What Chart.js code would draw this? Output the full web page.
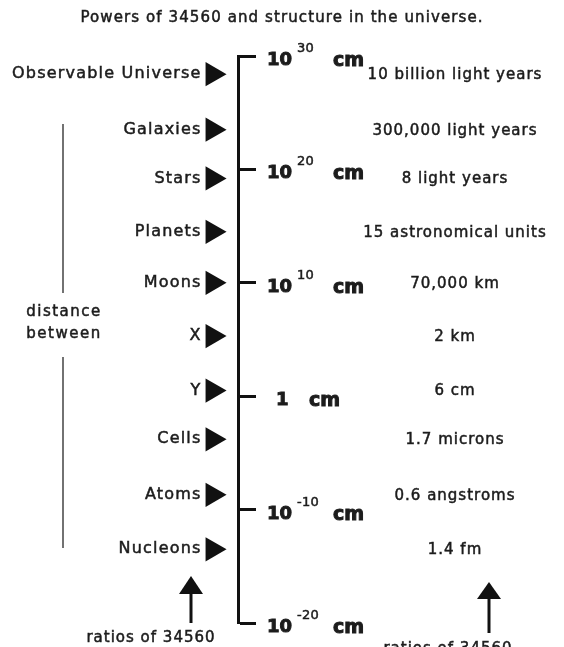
<!DOCTYPE html>
<html>
<head>
<meta charset="utf-8">
<title>Powers of 34560</title>
<script src="https://cdn.jsdelivr.net/npm/chart.js@4.4.1/dist/chart.umd.min.js"></script>
<style>
  html, body { margin: 0; padding: 0; background: #fff; }
  #powersChart { display: block; }
</style>
</head>
<body>
<canvas id="powersChart" width="564" height="647"></canvas>
<script>
const titleText = "Powers of 34560 and structure in the universe.";

// structures, biggest first
const structures = ["Observable Universe", "Galaxies", "Stars", "Planets", "Moons", "X", "Y", "Cells", "Atoms", "Nucleons"];
// log10 of the size in cm
const logSizes = [28.4, 23.5, 19.2, 14.5, 10.0, 5.3, 0.5, -3.8, -8.7, -13.5];
// distance between neighbours
const distances = ["10 billion light years", "300,000 light years", "8 light years", "15 astronomical units",
  "70,000 km", "2 km", "6 cm", "1.7 microns", "0.6 angstroms", "1.4 fm"];

// axis ticks: base^exp cm
const tickValues = [30, 20, 10, 0, -10, -20];
const tickBases = ["10", "10", "10", "1", "10", "10"];
const tickExps = ["30", "20", "10", "", "-10", "-20"];

const sideNote = ["distance", "between"];
const ratioNote = "ratios of 34560";

const INK = "#1c1c1c";
const FONT = "'DejaVu Sans', sans-serif";

// small helper for canvas text (thin stroke makes it look like the scanned print)
function txt(c, s, x, y, size, opts = {}) {
  c.save();
  c.font = `${opts.bold ? "bold " : ""}${size}px ${FONT}`;
  c.letterSpacing = (opts.spacing ?? 1) + "px";
  c.fillStyle = opts.color || INK;
  c.strokeStyle = opts.color || INK;
  c.lineWidth = opts.heavy ?? 0.5;
  c.textAlign = opts.align || "left";
  c.textBaseline = opts.baseline || "middle";
  c.fillText(s, x, y);
  if (c.lineWidth > 0) c.strokeText(s, x, y);
  c.restore();
}

// up arrow: head tip at top, shaft down to bottom
function upArrow(c, x, top, headBase, bottom) {
  c.save();
  c.strokeStyle = "#111";
  c.fillStyle = "#111";
  c.lineWidth = 3;
  c.beginPath();
  c.moveTo(x, headBase - 2);
  c.lineTo(x, bottom);
  c.stroke();
  c.beginPath();
  c.moveTo(x, top);
  c.lineTo(x + 12, headBase);
  c.lineTo(x - 12, headBase);
  c.closePath();
  c.fill();
  c.restore();
}

const labelsPlugin = {
  id: "labels",
  afterDraw(chart) {
    const c = chart.ctx;
    const yScale = chart.scales.y;
    const pts = chart.getDatasetMeta(0).data;

    txt(c, titleText, 282, 18, 15, { align: "center", spacing: 1.1 });

    pts.forEach((p, i) => {
      txt(c, structures[i], p.x - 11, p.y, 16, { align: "right", spacing: 1.2 });
      txt(c, distances[i], 455, p.y + 1, 15, { align: "center", spacing: 1 });
    });

    tickValues.forEach((v, i) => {
      const py = yScale.getPixelForValue(v);
      if (tickExps[i]) {
        txt(c, tickBases[i], 267, py + 9, 18, { bold: true, baseline: "alphabetic", spacing: 0, heavy: 0 });
        txt(c, tickExps[i], 297, py - 4, 13, { baseline: "alphabetic", spacing: 0.3 });
        txt(c, "cm", 333, py + 10, 19, { bold: true, baseline: "alphabetic", spacing: 0, heavy: 0 });
      } else {
        txt(c, tickBases[i], 276, py + 9, 18, { bold: true, baseline: "alphabetic", spacing: 0, heavy: 0 });
        txt(c, "cm", 309, py + 10, 19, { bold: true, baseline: "alphabetic", spacing: 0, heavy: 0 });
      }
    });

    // "distance between" with the two bracket lines
    c.save();
    c.strokeStyle = "#444";
    c.lineWidth = 1.5;
    c.beginPath();
    c.moveTo(63, 124); c.lineTo(63, 293);
    c.moveTo(63, 357); c.lineTo(63, 548);
    c.stroke();
    c.restore();
    txt(c, sideNote[0], 64, 312, 15, { align: "center", spacing: 1.5 });
    txt(c, sideNote[1], 64, 334, 15, { align: "center", spacing: 1.5 });

    upArrow(c, 191, 576, 594, 623);
    upArrow(c, 489, 582, 599, 633);
    txt(c, ratioNote, 151, 638, 15, { align: "center", spacing: 1 });
    txt(c, ratioNote, 448, 649, 15, { align: "center", spacing: 1 });
  }
};

const ctx = document.getElementById("powersChart").getContext("2d");

new Chart(ctx, {
  type: "scatter",
  data: {
    datasets: [
      {
        data: logSizes.map((v) => ({ x: 0, y: v })),
        pointStyle: "triangle",
        pointRotation: 90,
        pointRadius: 14,
        pointBackgroundColor: "#111",
        pointBorderColor: "#111",
        pointBorderWidth: 0,
      },
    ],
  },
  options: {
    responsive: false,
    animation: false,
    devicePixelRatio: 1,
    layout: { padding: { top: 56, bottom: 24, left: 0, right: 0 } },
    plugins: {
      legend: { display: false },
      tooltip: { enabled: false },
    },
    scales: {
      x: { display: false, min: -7.8, max: 1 },
      y: {
        position: "right",
        min: -20,
        max: 30,
        ticks: { display: false, stepSize: 10 },
        grid: { drawOnChartArea: false, tickLength: 18, tickWidth: 3, tickColor: "#111" },
        border: { color: "#111", width: 3 },
        afterFit: (s) => { s.width = 326; },
      },
    },
  },
  plugins: [labelsPlugin],
});
</script>
</body>
</html>
